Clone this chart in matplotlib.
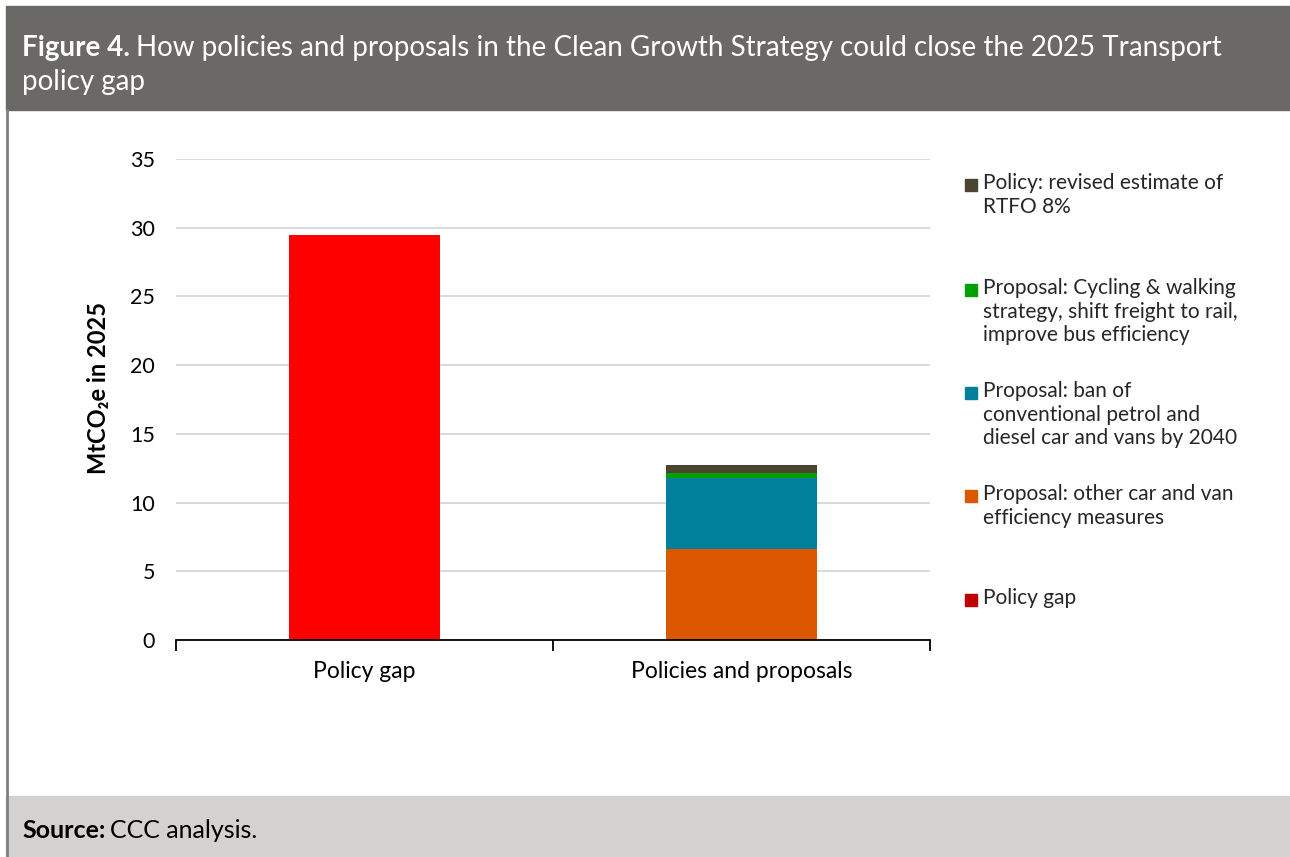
import matplotlib
matplotlib.use("Agg")
import matplotlib.pyplot as plt
from matplotlib.patches import Rectangle
from matplotlib.lines import Line2D

plt.rcParams["font.family"] = ["Lato", "DejaVu Sans"]

CATEGORIES = ["Policy gap", "Policies and proposals"]

# MtCO2e in 2025, one list per stacked series (bottom to top)
POLICY_GAP = [29.5, 0.0]
OTHER_CAR_VAN = [0.0, 6.6]
PETROL_DIESEL_BAN = [0.0, 5.2]
CYCLING_WALKING = [0.0, 0.35]
RTFO_REVISED = [0.0, 0.6]

SERIES = [
    (POLICY_GAP, "#ff0000"),
    (OTHER_CAR_VAN, "#db5800"),
    (PETROL_DIESEL_BAN, "#00809b"),
    (CYCLING_WALKING, "#00a000"),
    (RTFO_REVISED, "#4b4330"),
]

# legend entries, top to bottom
LEGEND_LABELS = [
    "Policy: revised estimate of\nRTFO 8%",
    "Proposal: Cycling & walking\nstrategy, shift freight to rail,\nimprove bus efficiency",
    "Proposal: ban of\nconventional petrol and\ndiesel car and vans by 2040",
    "Proposal: other car and van\nefficiency measures",
    "Policy gap",
]
LEGEND_COLOURS = ["#4b4330", "#00a000", "#00809b", "#db5800", "#c00000"]

W, H = 1290, 857
fig = plt.figure(figsize=(W / 100, H / 100), dpi=100)


def fx(px):
    return px / W


def fy(py):
    return 1 - py / H


# header and footer bands
fig.patches.append(Rectangle((fx(6), fy(110)), 1 - fx(6), fy(6) - fy(110),
                             transform=fig.transFigure, color="#6b6966", zorder=0))
fig.patches.append(Rectangle((fx(6), 0), 1 - fx(6), fy(796),
                             transform=fig.transFigure, color="#d3d2d0", zorder=0))
fig.lines.append(Line2D([fx(7), fx(7)], [0, fy(110)], transform=fig.transFigure,
                        color="#808080", lw=2))

ax = fig.add_axes([fx(176), fy(640), fx(930) - fx(176), fy(159) - fy(640)])

x = range(len(CATEGORIES))
bottom = [0.0] * len(CATEGORIES)
for values, colour in SERIES:
    ax.bar(x, values, width=0.4, bottom=bottom, color=colour, zorder=3)
    bottom = [b + v for b, v in zip(bottom, values)]

ax.set_xlim(-0.5, 1.5)
ax.set_ylim(0, 35)
ax.set_yticks(range(0, 36, 5))
ax.grid(axis="y", color="#d9d9d9", lw=1.4, zorder=0)
ax.set_axisbelow(True)
for side in ["left", "right", "top"]:
    ax.spines[side].set_visible(False)
ax.spines["bottom"].set_linewidth(1.3)
ax.spines["bottom"].set_zorder(4)
ax.tick_params(axis="y", length=0, labelsize=15.5, pad=15)
ax.set_xticks(list(x))
ax.set_xticklabels(CATEGORIES, fontsize=16.5)
ax.tick_params(axis="x", which="major", length=0, pad=15)
ax.set_xticks([-0.5, 0.5, 1.5], minor=True)
ax.tick_params(axis="x", which="minor", length=8, width=1.3, direction="out")
ax.set_ylabel("MtCO\u2082e in 2025", fontsize=17, fontweight="bold")
ax.yaxis.set_label_coords(-0.087, 0.524)

# legend drawn as squares with wrapped labels
legend_y = [185, 290, 393, 496, 600]
for label, colour, py in zip(LEGEND_LABELS, LEGEND_COLOURS, legend_y):
    fig.patches.append(Rectangle((fx(965), fy(py + 6)), fx(12), fy(0) - fy(12),
                                 transform=fig.transFigure, color=colour))
    fig.text(fx(983), fy(py - 12), label, fontsize=15, color="#262626",
             va="top", ha="left", linespacing=1.22)

# title with a bold lead-in
renderer = fig.canvas.get_renderer()
t = fig.text(fx(22), fy(56), "Figure 4.", fontsize=20, fontweight="bold",
             color="white", va="baseline")
bb = t.get_window_extent(renderer)
fig.text(bb.x1 / W + fx(6), fy(56),
         "How policies and proposals in the Clean Growth Strategy could close the 2025 Transport",
         fontsize=20, color="white", va="baseline")
fig.text(fx(22), fy(90), "policy gap", fontsize=20, color="white", va="baseline")

s = fig.text(fx(22), fy(838), "Source:", fontsize=18, fontweight="bold",
             color="black", va="baseline")
bb = s.get_window_extent(renderer)
fig.text(bb.x1 / W + fx(5), fy(838), "CCC analysis.", fontsize=18,
         color="black", va="baseline")

fig.savefig("out.png", dpi=100)
